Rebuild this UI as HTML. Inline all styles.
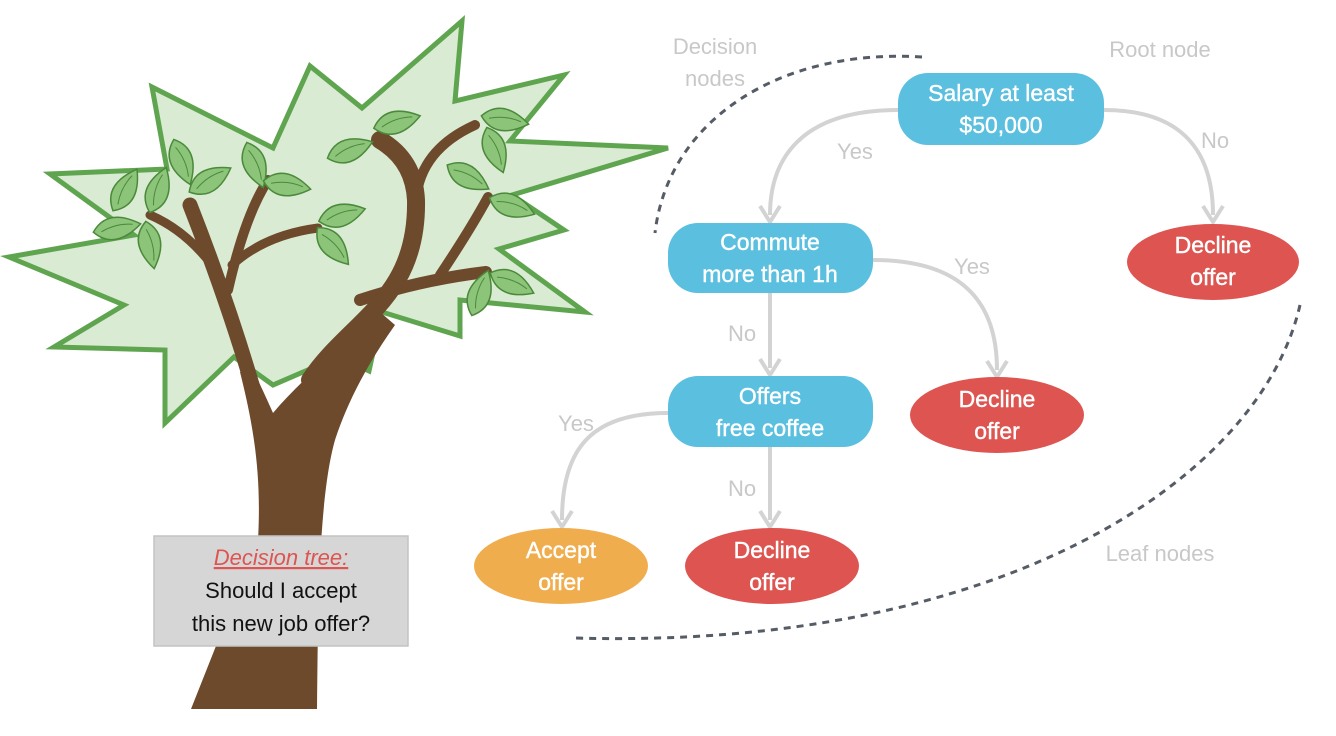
<!DOCTYPE html>
<html><head><meta charset="utf-8"><style>
html,body{margin:0;padding:0;background:#fff;}
svg{display:block;font-family:"Liberation Sans",sans-serif;}
</style></head><body>
<svg width="1336" height="736" viewBox="0 0 1336 736" xmlns="http://www.w3.org/2000/svg">
<defs>
<g id="leaf"><path d="M-24,0 Q-6,-22 24,0 Q-6,22 -24,0 Z" fill="#8cc47a" stroke="#4a8a3a" stroke-width="1.5"/><path d="M-16,1 Q0,-5 16,-1" fill="none" stroke="#4a8a3a" stroke-width="1"/></g>
</defs>
<polygon points="462,21 455,101 564,75 510,141 668,148 512,195 564,230 499,249 585,312 460,300 460,336 382,312 369,371 338,357 273,385 234,357 165,423 165,350 54,347 124,305 9,257 134,235 50,174 167,169 152,87 273,148 310,66 362,108" fill="#daebd3" stroke="#5fa550" stroke-width="5" stroke-linejoin="miter"/>
<g fill="none" stroke="#6e4a2d" stroke-linecap="round">
<path d="M262,420 Q235,320 190,205" stroke-width="15"/>
<path d="M212,265 Q185,230 150,215" stroke-width="9"/>
<path d="M228,290 Q245,215 268,180" stroke-width="10"/>
<path d="M232,265 Q265,235 318,228" stroke-width="9"/>
<path d="M310,380 C350,320 418,300 416,200 Q414,160 380,140" stroke-width="18"/>
<path d="M416,200 Q420,150 475,125" stroke-width="10"/>
<path d="M360,300 Q420,280 486,272" stroke-width="12"/>
<path d="M440,275 Q470,230 488,197" stroke-width="10"/>
</g>
<path d="M191,709 L317,709 C318,620 318,500 335,440 C348,400 370,360 395,325 L380,312 C345,345 305,375 273,413 C265,395 258,380 252,368 L240,372 C252,420 262,470 258,540 Z" fill="#6e4a2d"/>
<g>
<use href="#leaf" transform="translate(125,190) rotate(-60)"/>
<use href="#leaf" transform="translate(117,228) rotate(-10)"/>
<use href="#leaf" transform="translate(150,245) rotate(80)"/>
<use href="#leaf" transform="translate(158,190) rotate(-70)"/>
<use href="#leaf" transform="translate(182,162) rotate(70)"/>
<use href="#leaf" transform="translate(210,180) rotate(-30)"/>
<use href="#leaf" transform="translate(255,165) rotate(70)"/>
<use href="#leaf" transform="translate(287,185) rotate(10)"/>
<use href="#leaf" transform="translate(342,215) rotate(-15)"/>
<use href="#leaf" transform="translate(333,246) rotate(50)"/>
<use href="#leaf" transform="translate(350,150) rotate(-20)"/>
<use href="#leaf" transform="translate(397,122) rotate(-15)"/>
<use href="#leaf" transform="translate(505,120) rotate(10)"/>
<use href="#leaf" transform="translate(495,150) rotate(70)"/>
<use href="#leaf" transform="translate(468,177) rotate(30)"/>
<use href="#leaf" transform="translate(512,206) rotate(20)"/>
<use href="#leaf" transform="translate(480,293) rotate(-70)"/>
<use href="#leaf" transform="translate(512,283) rotate(25)"/>
</g>
<rect x="154" y="536" width="254" height="110" fill="#d6d6d6" stroke="#c4c4c4" stroke-width="1.5"/>
<text x="281" y="565" text-anchor="middle" font-size="22" font-style="italic" fill="#dd5450" text-decoration="underline">Decision tree:</text>
<text x="281" y="598" text-anchor="middle" font-size="22" fill="#111">Should I accept</text>
<text x="281" y="631" text-anchor="middle" font-size="22" fill="#111">this new job offer?</text>
<g fill="none" stroke="#555c66" stroke-width="3" stroke-dasharray="7,6">
<path d="M922,57 C780,48 668,120 655,233"/>
<path d="M1300,305 C1260,480 1000,650 575,638"/>
</g>
<g fill="none" stroke="#d3d3d3" stroke-width="4">
<path d="M898,110 C800,110 770,160 770,215"/>
<path d="M1104,110 C1190,110 1213,160 1213,215"/>
<path d="M873,260 C960,260 997,300 997,370"/>
<path d="M770,293 L770,368"/>
<path d="M668,413 C590,413 562,450 562,520"/>
<path d="M770,447 L770,520"/>
</g>
<g fill="none" stroke="#d3d3d3" stroke-width="4">
<path d="M760,206 L770,222 L780,206"/>
<path d="M1203,206 L1213,222 L1223,206"/>
<path d="M987,361 L997,377 L1007,361"/>
<path d="M760,359 L770,375 L780,359"/>
<path d="M552,511 L562,527 L572,511"/>
<path d="M760,511 L770,527 L780,511"/>
</g>
<rect x="898" y="73" width="206" height="72" rx="30" fill="#5bbfdf"/>
<rect x="668" y="223" width="205" height="70" rx="30" fill="#5bbfdf"/>
<rect x="668" y="376" width="205" height="71" rx="30" fill="#5bbfdf"/>
<ellipse cx="1213" cy="262" rx="86" ry="38" fill="#dd5450"/>
<ellipse cx="997" cy="415" rx="87" ry="38" fill="#dd5450"/>
<ellipse cx="561" cy="566" rx="87" ry="38" fill="#f0ad4e"/>
<ellipse cx="772" cy="566" rx="87" ry="38" fill="#dd5450"/>
<g fill="#fff" font-size="23" text-anchor="middle" stroke="#fff" stroke-width="0.4">
<text x="1001" y="101">Salary at least</text><text x="1001" y="133">$50,000</text>
<text x="770" y="250">Commute</text><text x="770" y="282">more than 1h</text>
<text x="770" y="404">Offers</text><text x="770" y="436">free coffee</text>
<text x="1213" y="253">Decline</text><text x="1213" y="285">offer</text>
<text x="997" y="407">Decline</text><text x="997" y="439">offer</text>
<text x="561" y="558">Accept</text><text x="561" y="590">offer</text>
<text x="772" y="558">Decline</text><text x="772" y="590">offer</text>
</g>
<g fill="#c8c8c8" font-size="22" text-anchor="middle">
<text x="855" y="159">Yes</text>
<text x="1215" y="148">No</text>
<text x="972" y="274">Yes</text>
<text x="742" y="341">No</text>
<text x="576" y="431">Yes</text>
<text x="742" y="496">No</text>
<text x="715" y="54">Decision</text>
<text x="715" y="86">nodes</text>
<text x="1160" y="57">Root node</text>
<text x="1160" y="561">Leaf nodes</text>
</g>
</svg>
</body></html>
